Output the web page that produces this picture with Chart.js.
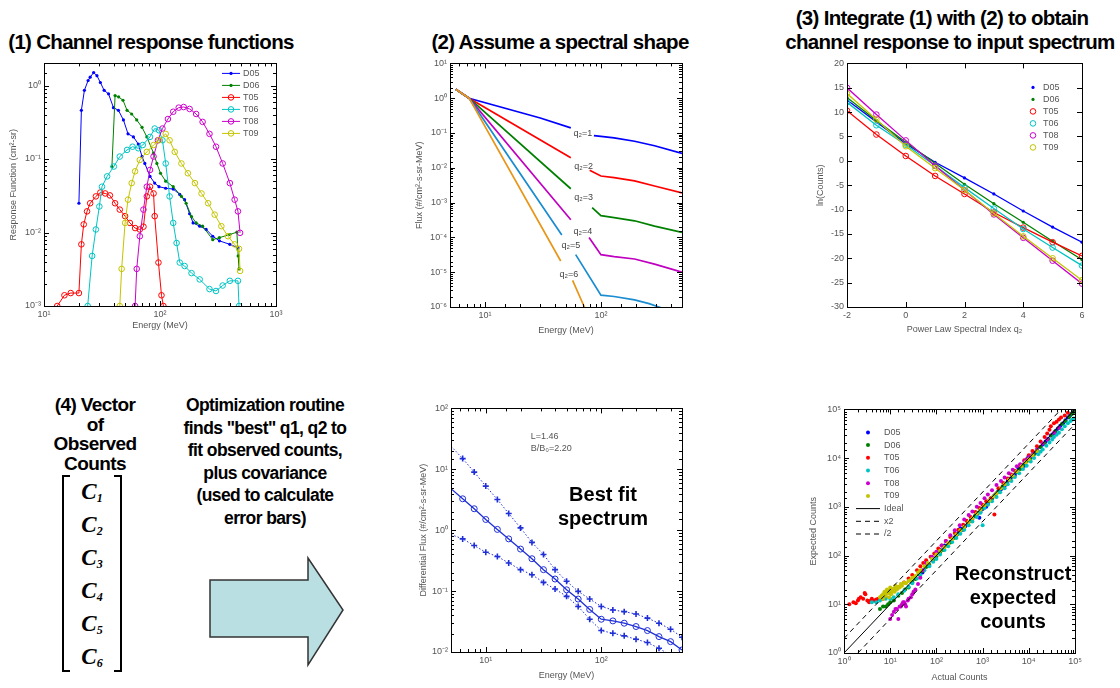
<!DOCTYPE html>
<html>
<head>
<meta charset="utf-8">
<script src="https://cdn.jsdelivr.net/npm/chart.js@4.4.0/dist/chart.umd.min.js"></script>
<style>
  body { margin: 0; width: 1120px; height: 688px; background: #fff; position: relative; overflow: hidden;
         font-family: "Liberation Sans", Arial, Helvetica, sans-serif; }
  canvas { position: absolute; }
  .ttl { position: absolute; font-weight: bold; font-size: 20.5px; letter-spacing: -0.7px; line-height: 22px;
         color: #000; white-space: nowrap; text-align: center; z-index: 2; }
  .big { position: absolute; font-weight: bold; font-size: 20px; line-height: 24px; color: #000;
         text-align: center; white-space: nowrap; z-index: 2; }
  .blk { position: absolute; font-weight: bold; letter-spacing: -0.6px; color: #000;
         text-align: center; white-space: nowrap; }
  #matrix { position: absolute; left: 62px; top: 475px; width: 60px; height: 197px; }
  #matrix .br { position: absolute; top: 0; bottom: 0; width: 6px; border: 2px solid #000; }
  #matrix .l { left: 0; border-right: none; }
  #matrix .r { right: 0; border-left: none; }
  #matrix .c { position: absolute; left: 0; width: 60px; text-align: center; height: 33px; line-height: 33px;
               font-family: "Liberation Serif", "Times New Roman", serif; font-weight: bold; font-style: italic; font-size: 23px; }
  #matrix .c sub { font-size: 12px; vertical-align: -3px; }
</style>
</head>
<body>

<div class="ttl" style="left:0px;top:31px;width:302px;">(1) Channel response functions</div>
<div class="ttl" style="left:430px;top:31px;width:260px;">(2) Assume a spectral shape</div>
<div class="ttl" style="left:762px;top:7px;width:360px;">(3) Integrate (1) with (2) to obtain</div>
<div class="ttl" style="left:770px;top:31px;width:360px;">channel response to input spectrum</div>

<div class="blk" style="left:30px;top:395px;width:130px;font-size:19px;line-height:19.5px;">(4) Vector<br>of<br>Observed<br>Counts</div>
<div id="matrix">
  <div class="br l"></div><div class="br r"></div>
  <div class="c" style="top:0px"><span>C</span><sub>1</sub></div>
  <div class="c" style="top:33px"><span>C</span><sub>2</sub></div>
  <div class="c" style="top:66px"><span>C</span><sub>3</sub></div>
  <div class="c" style="top:99px"><span>C</span><sub>4</sub></div>
  <div class="c" style="top:132px"><span>C</span><sub>5</sub></div>
  <div class="c" style="top:165px"><span>C</span><sub>6</sub></div>
</div>
<div class="blk" style="left:155px;top:394px;width:220px;font-size:17.5px;line-height:22.5px;">Optimization routine<br>finds "best" q1, q2 to<br>fit observed counts,<br>plus covariance<br>(used to calculate<br>error bars)</div>
<svg style="position:absolute;left:0;top:0" width="400" height="688">
  <polygon points="210,580 308,580 308,558 343,610 308,665 308,637 210,637" fill="#b9dfe3" stroke="#333" stroke-width="1.5"/>
</svg>

<canvas id="c1"></canvas>
<canvas id="c2"></canvas>
<canvas id="c3"></canvas>
<canvas id="c5"></canvas>
<canvas id="c6"></canvas>

<div class="big" style="left:553px;top:482px;width:100px;">Best fit<br>spectrum</div>
<div class="big" style="left:953px;top:561px;width:120px;">Reconstruct<br>expected<br>counts</div>

<script>
const FONT = '"Liberation Sans", Arial, Helvetica, sans-serif';

// ---- (1) channel response functions
const chanNames = ['D05', 'D06', 'T05', 'T06', 'T08', 'T09'];
const chanColors = ['#0000ff', '#008000', '#ff0000', '#00c4c4', '#cc00cc', '#c4c400'];
const d05E = [20, 21, 22.3, 24, 25, 26.8, 28.6, 30.6, 33, 36, 39.7, 43.8, 48.4, 53, 59, 65, 70, 74, 82, 90, 98, 112, 130, 148, 163, 180, 193, 220, 250, 285, 325, 400, 470];
const d05R = [0.025, 0.46, 0.86, 1.17, 1.3, 1.5, 1.36, 1.1, 0.86, 0.77, 0.5, 0.46, 0.34, 0.22, 0.2, 0.16, 0.108, 0.087, 0.058, 0.047, 0.042, 0.040, 0.039, 0.033, 0.028, 0.018, 0.0135, 0.0122, 0.011, 0.0089, 0.0077, 0.0069, 0.0062];
const d06E = [38.5, 41, 44, 48, 52, 57, 63, 70, 77, 88, 94, 101, 112, 130, 153, 168, 187, 205, 233, 285, 325, 400, 460, 472, 480];
const d06R = [0.079, 0.73, 0.70, 0.63, 0.46, 0.41, 0.34, 0.27, 0.20, 0.12, 0.087, 0.064, 0.05, 0.042, 0.031, 0.025, 0.0165, 0.0135, 0.0122, 0.008, 0.0085, 0.0094, 0.0101, 0.0048, 0.0032];
const t05E = [12, 13, 15, 17, 20, 21, 22, 23.5, 25, 28, 30.6, 33.7, 37, 41, 45, 50, 55, 61, 67, 72, 77, 82, 88, 90, 97, 103, 107];
const t05R = [0.0008, 0.001, 0.0014, 0.0015, 0.0015, 0.0069, 0.0129, 0.0194, 0.025, 0.031, 0.035, 0.034, 0.032, 0.025, 0.0205, 0.0167, 0.0135, 0.0115, 0.011, 0.012, 0.031, 0.042, 0.034, 0.0167, 0.0039, 0.0014, 0.001];
const t06E = [23.8, 26, 28, 30, 31.6, 35, 40, 45, 52, 58, 65, 71, 82, 90, 98, 105, 112, 121, 130, 139, 148, 163, 187, 220, 267, 304, 347, 400, 470, 480];
const t06R = [0.001, 0.0048, 0.011, 0.0226, 0.042, 0.058, 0.079, 0.108, 0.133, 0.147, 0.14, 0.155, 0.2, 0.26, 0.246, 0.18, 0.087, 0.031, 0.0135, 0.0072, 0.0039, 0.0035, 0.0028, 0.0023, 0.0017, 0.0016, 0.0019, 0.0022, 0.0022, 0.001];
const t08E = [61, 63, 67, 72, 77, 82, 88, 96, 105, 117, 130, 145, 160, 180, 205, 233, 267, 304, 347, 400, 440, 470, 490];
const t08R = [0.001, 0.0032, 0.0089, 0.0205, 0.042, 0.071, 0.108, 0.18, 0.26, 0.35, 0.44, 0.5, 0.51, 0.48, 0.41, 0.32, 0.22, 0.147, 0.087, 0.047, 0.028, 0.0194, 0.0099];
const t09E = [45, 46.7, 50, 53, 57, 61, 67, 77, 88, 98, 112, 121, 134, 153, 174, 200, 228, 260, 296, 338, 386, 440, 480, 490];
const t09R = [0.001, 0.0032, 0.0135, 0.028, 0.047, 0.068, 0.097, 0.125, 0.155, 0.18, 0.22, 0.18, 0.125, 0.087, 0.064, 0.047, 0.034, 0.025, 0.0175, 0.0122, 0.0089, 0.0069, 0.006, 0.003];

// ---- (2) spectral shapes, null = gap where the label sits
const q2Colors = ['#0000ff', '#ff0000', '#008000', '#c000c0', '#1a8cd0', '#e8961a'];
const s1E = [5.6, 7.3, 30, 55, 70, 87, 100, 130, 195, 290, 500];
const s1F = [1.8, 1.0, 0.27, 0.14, null, 0.084, 0.080, 0.072, 0.058, 0.043, 0.026];
const s2E = [5.6, 7.3, 55, 68, 80, 100, 130, 195, 290, 500];
const s2F = [1.8, 1.0, 0.0194, null, 0.0085, 0.0058, 0.0052, 0.0042, 0.0030, 0.0019];
const s3E = [5.6, 7.3, 55, 68, 84, 100, 130, 195, 290, 500];
const s3F = [1.8, 1.0, 0.0025, null, 0.00072, 0.00042, 0.00037, 0.00030, 0.00021, 0.00014];
const s4E = [5.6, 7.3, 55, 67, 79, 100, 130, 195, 290, 500];
const s4F = [1.8, 1.0, 0.00032, null, 1.0e-4, 3.2e-5, 2.8e-5, 2.4e-5, 1.7e-5, 1.0e-5];
const s5E = [5.6, 7.3, 46, 53, 60.6, 100, 130, 195, 260, 330];
const s5F = [1.8, 1.0, 1.17e-4, null, 3.2e-5, 2.2e-6, 2.0e-6, 1.6e-6, 1.25e-6, 0.95e-6];
const s6E = [5.6, 7.3, 45, 51, 57, 72, 76];
const s6F = [1.8, 1.0, 2.1e-5, null, 5.8e-6, 1.0e-6, 7e-7];
const q2Text = ['q\u2082=1', 'q\u2082=2', 'q\u2082=3', 'q\u2082=4', 'q\u2082=5', 'q\u2082=6'];
const q2TextE = [70, 71, 71, 70, 55, 53];
const q2TextF = [0.094, 0.0107, 0.00139, 1.48e-4, 5.9e-5, 8.7e-6];

// ---- (3) ln(counts) vs spectral index
const q2Index = [-2, -1, 0, 1, 2, 3, 4, 5, 6];
const lnD05 = [12.5, 8, 3.5, -0.3, -3.5, -6.8, -10.3, -13.6, -16.7];
const lnD06 = [13, 8.3, 3.8, -0.5, -4.8, -8.8, -12.6, -16.5, -20.3];
const lnT05 = [10.3, 5.4, 1, -3.1, -6.8, -10.6, -13.7, -16.7, -19.5];
const lnT06 = [12, 7.3, 3.3, -1, -5.5, -9.8, -14, -17.8, -21.5];
const lnT08 = [15, 9.5, 4.2, -1, -6, -11, -15.8, -20.5, -25.2];
const lnT09 = [13.8, 8.5, 3, -1.5, -6, -10.8, -15.5, -20, -24.5];

// ---- (5) best fit spectrum
const fitE = [5, 6.31, 7.94, 10, 12.6, 15.8, 20, 25.1, 31.6, 39.8, 50.1, 63.1, 79.4, 100, 126, 158, 200, 251, 316, 398, 500];
const fitF = [4.8, 3.28, 2.25, 1.50, 1.03, 0.72, 0.49, 0.34, 0.225, 0.158, 0.105, 0.074, 0.050, 0.0345, 0.0324, 0.0297, 0.0262, 0.0225, 0.0179, 0.0148, 0.0108];
const fitHi = [24, 15, 9.0, 5.3, 3.2, 1.88, 1.09, 0.63, 0.40, 0.225, 0.145, 0.099, 0.074, 0.056, 0.049, 0.046, 0.042, 0.036, 0.0297, 0.0237, 0.0175];
const fitLo = [0.85, 0.72, 0.56, 0.434, 0.37, 0.29, 0.225, 0.186, 0.139, 0.108, 0.082, 0.056, 0.0345, 0.0225, 0.0203, 0.0184, 0.0162, 0.0143, 0.0115, 0.0088, 0.0068];

// ---- (6) expected vs actual counts
const actD05 = [30, 50, 70, 120, 150, 200, 260, 330, 420, 550, 700, 850, 1000, 1200, 1500, 1800, 2200, 2800, 3500, 4500, 6000, 8000, 9500, 12000, 15000, 20000, 26000, 33000, 42000, 55000, 70000, 85000,
  300, 380, 480, 600, 750, 900, 1100, 1300, 1600, 2000, 2500, 3000, 4000, 5000, 7000, 10000, 11000, 14000, 18000, 23000, 30000, 38000, 48000, 62000, 78000, 95000];
const expD05 = [28, 45, 62, 130, 160, 190, 250, 360, 400, 520, 640, 600, 900, 1000, 1400, 1700, 2100, 2600, 3400, 4300, 6200, 7000, 10000, 11500, 14500, 19000, 25000, 31000, 40000, 52000, 68000, 82000,
  290, 340, 470, 560, 700, 780, 1050, 1150, 1500, 1900, 2300, 2700, 3800, 4500, 6500, 9500, 10500, 13000, 17000, 22000, 29000, 36000, 46000, 60000, 75000, 92000];
const actD06 = [6, 9, 12, 18, 25, 35, 50, 70, 100, 140, 200, 280, 400, 560, 800, 1100, 1600, 2200, 3200, 4500, 6500, 9000, 13000, 18000, 26000, 37000, 52000, 75000, 95000,
  7, 8, 10, 15, 21, 30, 42, 60, 85, 120, 170, 240, 340, 480, 680, 950, 1350, 1900, 2700, 3800, 5500, 7500, 11000, 15000, 22000, 31000, 44000, 62000, 85000];
const expD06 = [8, 10, 12, 17, 22, 33, 48, 65, 95, 130, 185, 270, 380, 520, 760, 1050, 1500, 2100, 3000, 4200, 6000, 8500, 12000, 17000, 24000, 35000, 50000, 70000, 90000,
  9, 9, 11, 15, 20, 29, 41, 58, 80, 115, 160, 230, 330, 460, 650, 900, 1300, 1800, 2600, 3600, 5200, 7200, 10000, 14000, 20000, 29000, 42000, 58000, 80000];
const actT05 = [1.3, 1.6, 2, 2.3, 2.6, 2.9, 3.2, 3.5, 4, 4.5, 5, 6, 7, 8, 15, 20, 30, 45, 60, 90, 130, 200, 300, 450, 700, 1000, 1500, 1800, 2200, 3500, 5000, 8000, 12000, 18000, 25000, 30000, 35000, 45000, 60000,
  1.8, 2.1, 2.8, 3.8, 5.5, 10, 12, 25, 38, 52, 75, 110, 160, 250, 380, 550, 850, 1200, 2800, 4200, 6500, 10000, 15000, 22000, 28000, 40000, 50000, 70000];
const expT05 = [10, 11, 12, 14, 13, 16, 12, 11, 13, 12, 12.5, 13, 13, 14, 22, 28, 40, 60, 80, 110, 160, 240, 340, 520, 780, 1100, 1500, 700, 2400, 3800, 5500, 9000, 14000, 22000, 32000, 45000, 52000, 62000, 75000,
  10.5, 13, 17, 12, 13, 17, 19, 34, 50, 70, 95, 140, 200, 290, 430, 620, 950, 1300, 3100, 4600, 7200, 11500, 17500, 27000, 38000, 56000, 68000, 85000];
const actT06 = [4, 8, 12, 20, 30, 45, 70, 100, 150, 220, 330, 500, 750, 1000, 1100, 1600, 2400, 3500, 5000, 7500, 11000, 16000, 20000, 28000, 35000, 45000, 60000, 80000, 95000,
  5, 6, 10, 15, 25, 38, 55, 85, 120, 180, 270, 400, 600, 900, 1300, 2000, 3000, 4200, 6200, 9000, 13000, 18000, 24000, 32000, 40000, 52000, 70000, 88000];
const expT06 = [11, 13, 14, 19, 27, 40, 60, 85, 130, 190, 280, 420, 620, 420, 950, 1300, 2000, 2900, 4100, 6000, 8500, 12000, 15000, 21000, 27000, 33000, 45000, 58000, 65000,
  11, 12, 13, 16, 23, 34, 50, 75, 105, 155, 230, 340, 500, 760, 1100, 1600, 2400, 3400, 4900, 7000, 10000, 13500, 18000, 24000, 30000, 39000, 52000, 62000];
const actT08 = [10, 12, 14, 15, 16, 18, 20, 22, 25, 30, 35, 40, 60, 100, 160, 250, 400, 600, 900, 1300, 2000, 3000, 4500, 6500, 9000, 12000, 20000, 35000,
  11, 13, 17, 19, 21, 24, 28, 32, 45, 50, 80, 130, 200, 320, 500, 750, 1100, 1600, 2500, 3700, 5500, 8000, 10500, 15000, 25000, 45000];
const expT08 = [5, 7, 8, 5, 9, 10, 11, 9, 13, 16, 20, 26, 70, 120, 200, 330, 550, 800, 1200, 1800, 2800, 4000, 5800, 7500, 9500, 12000, 20000, 33000,
  6, 8, 9, 11, 10, 12, 14, 18, 35, 50, 95, 160, 260, 420, 680, 1000, 1500, 2200, 3400, 4900, 6800, 8500, 10800, 15000, 24000, 42000];
const actT09 = [6, 7, 7.5, 8, 8.5, 9, 10, 10, 11, 12, 13, 14, 15, 17, 20, 25, 30, 40, 55, 80, 120, 180, 270, 400, 600, 900, 1400, 2000, 3000, 4500, 7000, 10000, 15000,
  6.5, 7, 8, 9, 9.5, 10.5, 11.5, 12.5, 13.5, 16, 18, 22, 27, 35, 45, 65, 100, 150, 220, 330, 500, 750, 1100, 1700, 2500, 3700, 5500, 8500, 12000];
const expT09 = [14, 16, 18, 15, 20, 17, 19, 22, 18, 21, 24, 20, 23, 26, 28, 30, 35, 45, 60, 85, 125, 180, 270, 390, 580, 880, 1350, 1900, 2900, 4400, 6800, 9500, 14000,
  15, 13, 17, 19, 14, 16, 20, 18, 22, 22, 24, 27, 31, 38, 50, 70, 105, 150, 220, 330, 490, 730, 1080, 1650, 2400, 3600, 5400, 8200, 11500];
const refNames = ['Ideal', 'x2', '/2'];
const refAct = [[1, 100000], [1, 50000], [2, 100000]];
const refExp = [[1, 100000], [2, 100000], [1, 50000]];

// ---------------------------------------------------------------
const sup = { '-': '\u207B', '0': '\u2070', '1': '\u00B9', '2': '\u00B2', '3': '\u00B3', '4': '\u2074', '5': '\u2075', '6': '\u2076', '7': '\u2077', '8': '\u2078', '9': '\u2079' };
function isPow10(v) { const e = Math.log10(v); return Math.abs(e - Math.round(e)) < 1e-6; }
function pow10Label(v) {
  if (!isPow10(v)) return '';
  return '10' + String(Math.round(Math.log10(v))).split('').map(c => sup[c]).join('');
}
function pts(xs, ys) { return xs.map((x, i) => ({ x: x, y: ys[i] })); }

const extras = {};   // per canvas: legend / text notes

// box with inward ticks, like the original plots
const framePlugin = {
  id: 'mframe',
  afterDatasetsDraw(chart) {
    const { ctx, chartArea: a } = chart;
    ctx.save();
    ctx.strokeStyle = '#000';
    ctx.lineWidth = 1;
    ['x', 'y'].forEach(id => {
      const s = chart.scales[id];
      const log = s.options.type === 'logarithmic';
      s.ticks.forEach(t => {
        const major = !log || isPow10(t.value);
        const len = major ? 5 : 3;
        const p = Math.round(s.getPixelForValue(t.value)) + 0.5;
        ctx.beginPath();
        if (id === 'x') {
          if (p < a.left || p > a.right) return;
          ctx.moveTo(p, a.bottom); ctx.lineTo(p, a.bottom - len);
          ctx.moveTo(p, a.top); ctx.lineTo(p, a.top + len);
        } else {
          if (p < a.top || p > a.bottom) return;
          ctx.moveTo(a.left, p); ctx.lineTo(a.left + len, p);
          ctx.moveTo(a.right, p); ctx.lineTo(a.right - len, p);
        }
        ctx.stroke();
      });
    });
    ctx.strokeRect(Math.round(a.left) + 0.5, Math.round(a.top) + 0.5, Math.round(a.right - a.left), Math.round(a.bottom - a.top));
    ctx.restore();
  }
};

function drawMarker(ctx, ds, x, y) {
  const r = ds.pointRadius;
  if (!r) return;
  ctx.save();
  ctx.setLineDash([]);
  ctx.lineWidth = ds.pointBorderWidth || 1;
  ctx.strokeStyle = ds.borderColor;
  ctx.fillStyle = ds.pointBackgroundColor;
  if (ds.pointStyle === 'cross') {
    ctx.beginPath(); ctx.moveTo(x - r, y); ctx.lineTo(x + r, y); ctx.moveTo(x, y - r); ctx.lineTo(x, y + r); ctx.stroke();
  } else {
    ctx.beginPath(); ctx.arc(x, y, r, 0, Math.PI * 2);
    if (ds.pointBackgroundColor && ds.pointBackgroundColor !== 'transparent') ctx.fill();
    if (ds.pointBorderWidth) ctx.stroke();
  }
  ctx.restore();
}

const notePlugin = {
  id: 'mnotes',
  afterDraw(chart) {
    const ex = extras[chart.canvas.id];
    if (!ex) return;
    const { ctx, chartArea: a } = chart;
    ctx.save();
    ctx.font = '9px ' + FONT;
    ctx.textBaseline = 'middle';
    if (ex.legend) {
      const L = ex.legend;
      const x0 = L.x < 0 ? a.right + L.x : a.left + L.x;
      chart.data.datasets.forEach((ds, i) => {
        const y = a.top + L.top + i * L.step;
        if (L.lines && ds.showLine) {
          ctx.strokeStyle = ds.borderColor;
          ctx.lineWidth = ds.borderWidth || 1;
          ctx.setLineDash(ds.borderDash || []);
          ctx.beginPath(); ctx.moveTo(x0, y); ctx.lineTo(x0 + L.len, y); ctx.stroke();
          ctx.setLineDash([]);
        }
        drawMarker(ctx, ds, x0 + L.len / 2, y);
        ctx.fillStyle = '#555';
        ctx.textAlign = 'left';
        ctx.fillText(ds.label, x0 + L.len + L.gap, y);
      });
    }
    if (ex.notes) {
      const sx = chart.scales.x, sy = chart.scales.y;
      ex.notes.forEach(n => {
        ctx.fillStyle = n.color || '#444';
        ctx.textAlign = n.align || 'center';
        ctx.fillText(n.text, sx.getPixelForValue(n.x), sy.getPixelForValue(n.y));
      });
    }
    ctx.restore();
  }
};
Chart.register(framePlugin, notePlugin);

function axis(type, min, max, title, fitSize, horizontal, extra) {
  const o = {
    type: type, min: min, max: max,
    grid: { display: false, drawTicks: false },
    border: { display: false },
    ticks: {
      autoSkip: false, maxRotation: 0, color: '#555', padding: 3,
      font: { size: 9, family: FONT },
      callback: type === 'logarithmic' ? (v) => pow10Label(v) : (v) => String(v)
    },
    title: { display: true, text: title, color: '#555', padding: 0, font: { size: 9, family: FONT } },
    afterFit: horizontal ? (s) => { s.height = fitSize; } : (s) => { s.width = fitSize; }
  };
  if (extra) Object.assign(o.ticks, extra);
  return o;
}

// frame = plot box on the page, pad = room around it for labels
function makeChart(id, frame, pad, xAxis, yAxis, datasets) {
  const cv = document.getElementById(id);
  const W = frame.r - frame.l + pad.l + pad.r;
  const H = frame.b - frame.t + pad.t + pad.b;
  cv.width = W; cv.height = H;
  cv.style.width = W + 'px'; cv.style.height = H + 'px';
  cv.style.left = (frame.l - pad.l) + 'px';
  cv.style.top = (frame.t - pad.t) + 'px';
  datasets.forEach((d, i) => { d.order = 100 - i; });
  return new Chart(cv, {
    type: 'scatter',
    data: { datasets: datasets },
    options: {
      responsive: false, animation: false, events: [],
      layout: { padding: { left: 0, top: pad.t, right: pad.r, bottom: 0 } },
      elements: { line: { tension: 0 } },
      plugins: { legend: { display: false }, tooltip: { enabled: false } },
      scales: { x: xAxis(pad.b), y: yAxis(pad.l) }
    }
  });
}

function lineSet(label, color, data, opts) {
  return Object.assign({
    label: label, data: data, showLine: true, spanGaps: false,
    borderColor: color, borderWidth: 1, backgroundColor: color,
    pointRadius: 0, pointStyle: 'circle', pointBorderWidth: 1,
    pointBorderColor: color, pointBackgroundColor: 'transparent'
  }, opts || {});
}

// ---- chart 1
const dots = { pointRadius: 1.6, pointBorderWidth: 0 };
const rings = { pointRadius: 2.8, pointBorderWidth: 1 };
const c1Series = [[d05E, d05R], [d06E, d06R], [t05E, t05R], [t06E, t06R], [t08E, t08R], [t09E, t09R]];
extras.c1 = { legend: { x: -54, top: 10, step: 12, len: 18, gap: 3, lines: true } };
makeChart('c1', { l: 44, t: 63, r: 276, b: 306 }, { l: 36, t: 8, r: 12, b: 25 },
  (h) => axis('logarithmic', 10, 1000, 'Energy (MeV)', h, true),
  (w) => axis('logarithmic', 0.001, 2, 'Response Function (cm\u00B2-sr)', w, false),
  c1Series.map((s, i) => lineSet(chanNames[i], chanColors[i], pts(s[0], s[1]),
    i < 2 ? Object.assign({ pointBackgroundColor: chanColors[i] }, dots) : rings)));

// ---- chart 2
const c2Series = [[s1E, s1F], [s2E, s2F], [s3E, s3F], [s4E, s4F], [s5E, s5F], [s6E, s6F]];
extras.c2 = { notes: q2Text.map((t, i) => ({ text: t, x: q2TextE[i], y: q2TextF[i], color: '#444' })) };
makeChart('c2', { l: 450, t: 63, r: 682, b: 307 }, { l: 36, t: 8, r: 12, b: 29 },
  (h) => axis('logarithmic', 5, 500, 'Energy (MeV)', h, true),
  (w) => axis('logarithmic', 1e-6, 10, 'Flux (#/cm\u00B2-s-sr-MeV)', w, false),
  c2Series.map((s, i) => lineSet(q2Text[i], q2Colors[i], pts(s[0], s[1]), { borderWidth: 1.7 })));

// ---- chart 3
const c3Series = [lnD05, lnD06, lnT05, lnT06, lnT08, lnT09];
extras.c3 = { legend: { x: -53, top: 24, step: 12, len: 8, gap: 6, lines: false } };
makeChart('c3', { l: 847, t: 63, r: 1082, b: 307 }, { l: 32, t: 8, r: 12, b: 28 },
  (h) => axis('linear', -2, 6, 'Power Law Spectral Index q\u2082', h, true, { stepSize: 2 }),
  (w) => axis('linear', -30, 20, 'ln(Counts)', w, false, { stepSize: 5 }),
  c3Series.map((s, i) => lineSet(chanNames[i], chanColors[i], pts(q2Index, s),
    Object.assign({ borderWidth: 1.3 }, i < 2 ? Object.assign({ pointBackgroundColor: chanColors[i] }, dots) : rings))));

// ---- chart 5
const firstHidden = fitE.map((e, i) => i === 0 ? 0 : 3);
extras.c5 = { notes: [
  { text: 'L=1.46', x: 24.5, y: 35, align: 'left', color: '#555' },
  { text: 'B/B\u2080=2.20', x: 24.5, y: 22, align: 'left', color: '#555' }
] };
makeChart('c5', { l: 451, t: 408, r: 682, b: 652 }, { l: 33, t: 8, r: 12, b: 29 },
  (h) => axis('logarithmic', 5, 500, 'Energy (MeV)', h, true),
  (w) => axis('logarithmic', 0.01, 100, 'Differential Flux (#/cm\u00B2-s-sr-MeV)', w, false),
  [
    lineSet('fit', '#1f2fd8', pts(fitE, fitF), { borderWidth: 1.3, pointRadius: firstHidden, pointBorderWidth: 1 }),
    lineSet('upper', '#1f2fd8', pts(fitE, fitHi), { borderWidth: 1, borderDash: [1.5, 2], pointRadius: firstHidden, pointStyle: 'cross', pointBorderWidth: 1.6 }),
    lineSet('lower', '#1f2fd8', pts(fitE, fitLo), { borderWidth: 1, borderDash: [1.5, 2], pointRadius: firstHidden, pointStyle: 'cross', pointBorderWidth: 1.6 })
  ]);

// ---- chart 6
const c6Series = [[actD05, expD05], [actD06, expD06], [actT05, expT05], [actT06, expT06], [actT08, expT08], [actT09, expT09]];
const c6Sets = c6Series.map((s, i) => ({
  label: chanNames[i], data: pts(s[0], s[1]), showLine: false,
  pointRadius: 2, pointBorderWidth: 0, borderColor: chanColors[i],
  backgroundColor: chanColors[i], pointBackgroundColor: chanColors[i]
}));
refNames.forEach((n, i) => c6Sets.push(lineSet(n, '#000', pts(refAct[i], refExp[i]),
  { borderWidth: 1, borderDash: i === 0 ? [] : [5, 4] })));
extras.c6 = { legend: { x: 12, top: 23, step: 12.7, len: 24, gap: 4, lines: true } };
makeChart('c6', { l: 844, t: 409, r: 1075, b: 653 }, { l: 36, t: 8, r: 12, b: 30 },
  (h) => axis('logarithmic', 1, 100000, 'Actual Counts', h, true),
  (w) => axis('logarithmic', 1, 100000, 'Expected Counts', w, false),
  c6Sets);
</script>
</body>
</html>
